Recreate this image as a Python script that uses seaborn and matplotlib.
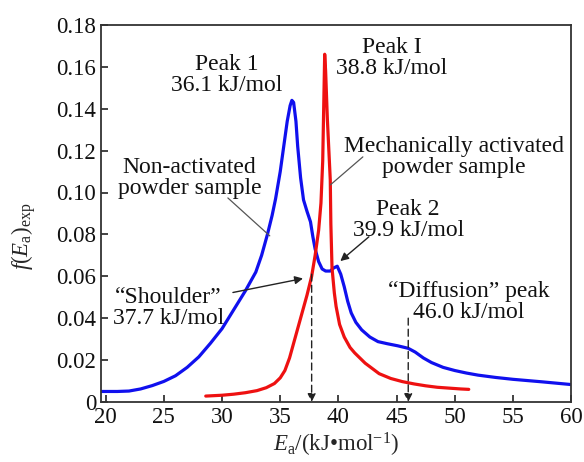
import numpy as np
import pandas as pd
import matplotlib
matplotlib.use("Agg")
import matplotlib.pyplot as plt
import seaborn as sns

# ==========================
# Data
# ==========================
ea_nonact = [19.6, 21, 22, 23, 24, 25, 26, 27, 28, 29, 30, 31, 32, 32.9, 33.4,
             33.9, 34.3, 34.6, 35.0, 35.3, 35.6, 35.85, 36.0, 36.15, 36.35,
             36.5, 36.75, 37.0, 37.3, 37.6, 37.8, 38.0, 38.3, 38.6, 38.9, 39.3,
             39.6, 39.9, 40.2, 40.5, 40.8, 41.1, 41.5, 42.0, 42.7, 43.4, 44.2,
             45.1, 46.0, 46.6, 47.3, 48.0, 49, 50, 51, 52, 53.5, 55, 57.5, 60]
f_nonact = [0.0050, 0.0050, 0.0052, 0.0062, 0.0078, 0.0098, 0.0125, 0.0165,
            0.0215, 0.0280, 0.0350, 0.0440, 0.0530, 0.0620, 0.0700, 0.0800,
            0.0890, 0.0970, 0.1100, 0.1220, 0.1340, 0.1415, 0.1440, 0.1430,
            0.1340, 0.1220, 0.1070, 0.0965, 0.0910, 0.0860, 0.0790, 0.0730,
            0.0670, 0.0635, 0.0625, 0.0625, 0.0640, 0.0648, 0.0610, 0.0550,
            0.0480, 0.0425, 0.0380, 0.0344, 0.0310, 0.0288, 0.0278, 0.0268,
            0.0256, 0.0238, 0.0210, 0.0188, 0.0165, 0.0150, 0.0138, 0.0128,
            0.0117, 0.0108, 0.0096, 0.0083]

ea_mech = [28.6, 30, 31, 32, 33, 33.8, 34.5, 35.0, 35.4, 35.8, 36.2, 36.8,
           37.3, 37.7, 38.0, 38.3, 38.5, 38.65, 38.75, 38.82, 38.9, 39.05,
           39.3, 39.35, 39.45, 39.65, 39.8, 40.1, 40.5, 41.0, 41.4, 42.3, 43.5,
           44.5, 45.5, 46.5, 47.5, 48.5, 49.5, 50.5, 51.2]
f_mech = [0.0028, 0.0032, 0.0037, 0.0044, 0.0054, 0.0068, 0.0088, 0.0115,
          0.0150, 0.0210, 0.0290, 0.0410, 0.0510, 0.0600, 0.0700, 0.0820,
          0.0950, 0.1150, 0.1450, 0.1660, 0.1580, 0.1350, 0.1060, 0.0850,
          0.0640, 0.0520, 0.0456, 0.0370, 0.0310, 0.0260, 0.0234, 0.0185,
          0.0135, 0.0112, 0.0097, 0.0086, 0.0077, 0.0070, 0.0066, 0.0062,
          0.0060]

x_ticks = [20, 25, 30, 35, 40, 45, 50, 55, 60]
y_ticks = [0, 0.02, 0.04, 0.06, 0.08, 0.10, 0.12, 0.14, 0.16, 0.18]
y_tick_labels = ["0", "0.02", "0.04", "0.06", "0.08", "0.10", "0.12", "0.14",
                 "0.16", "0.18"]

df = pd.concat([
    pd.DataFrame({"Ea": ea_nonact, "f": f_nonact, "sample": "non"}),
    pd.DataFrame({"Ea": ea_mech, "f": f_mech, "sample": "mech"}),
])

# ==========================
# Style
# ==========================
sns.set_style("ticks")
plt.rcParams["font.family"] = ["Liberation Serif", "DejaVu Serif"]
plt.rcParams["mathtext.fontset"] = "custom"
plt.rcParams["mathtext.rm"] = "Liberation Serif"
plt.rcParams["mathtext.it"] = "Liberation Serif:italic"
plt.rcParams["font.size"] = 17

fig = plt.figure(figsize=(5.84, 4.62), dpi=100)
ax = fig.add_axes([0.173, 0.130, 0.805, 0.816])

sns.lineplot(
    data=df,
    x="Ea",
    y="f",
    hue="sample",
    palette={"non": "#1010ee", "mech": "#ee1111"},
    linewidth=2.3,
    sort=False,
    legend=False,
    ax=ax
)

ax.set_xlim(19.6, 60)
ax.set_ylim(0, 0.18)
ax.set_xticks(x_ticks)
ax.set_yticks(y_ticks)
ax.set_yticklabels(y_tick_labels)
ax.tick_params(direction="in", length=5, width=1.2, colors="#222222",
               labelsize=16.5, labelcolor="#111111")
for s in ax.spines.values():
    s.set_linewidth(1.3)
    s.set_color("#333333")

ax.set_xlabel(r"$E_\mathrm{a}$/(kJ•mol$^{-1}$)", fontsize=16.5, labelpad=2)
ax.set_ylabel(r"$f(E_\mathrm{a})_\mathrm{exp}$", fontsize=16.5, labelpad=4)
ax.yaxis.set_label_coords(-0.135, 0.44)

# ==========================
# Annotations
# ==========================
txt = dict(ha="center", va="center", linespacing=1.0, fontsize=17,
           color="#111111")
ax.text(30.4, 0.156, "Peak 1\n36.1 kJ/mol", **txt)
ax.text(44.6, 0.164, "Peak I\n38.8 kJ/mol", **txt)
ax.text(27.2, 0.107, "Non-activated\npowder sample", **txt)
ax.text(49.9, 0.117, "Mechanically activated\npowder sample", **txt)
ax.text(46.0, 0.087, "Peak 2\n39.9 kJ/mol", **txt)
ax.text(25.4, 0.045, "\u201cShoulder\u201d\n37.7 kJ/mol", **txt)
ax.text(51.2, 0.0475, "\u201cDiffusion\u201d peak\n46.0 kJ/mol", **txt)

# leader lines
ax.plot([30.5, 34.1], [0.0974, 0.0793], color="#555555", lw=0.9)
ax.plot([42.1, 39.3], [0.117, 0.1036], color="#555555", lw=0.9)

# arrows
arrow = dict(arrowstyle="-|>", color="#222222", lw=1.0, mutation_scale=12)
ax.annotate("", xy=(39.98, 0.0664), xytext=(42.8, 0.0797), arrowprops=arrow)
ax.annotate("", xy=(37.19, 0.0592), xytext=(30.7, 0.052), arrowprops=arrow)

dash = dict(arrowstyle="-|>", color="#222222", lw=1.0, linestyle=(0, (5, 3)),
            mutation_scale=12, shrinkA=0, shrinkB=0)
ax.annotate("", xy=(37.7, 0.0), xytext=(37.7, 0.061), arrowprops=dash)
ax.annotate("", xy=(46.0, 0.0), xytext=(46.0, 0.040), arrowprops=dash)

plt.savefig("out.png", dpi=100)
